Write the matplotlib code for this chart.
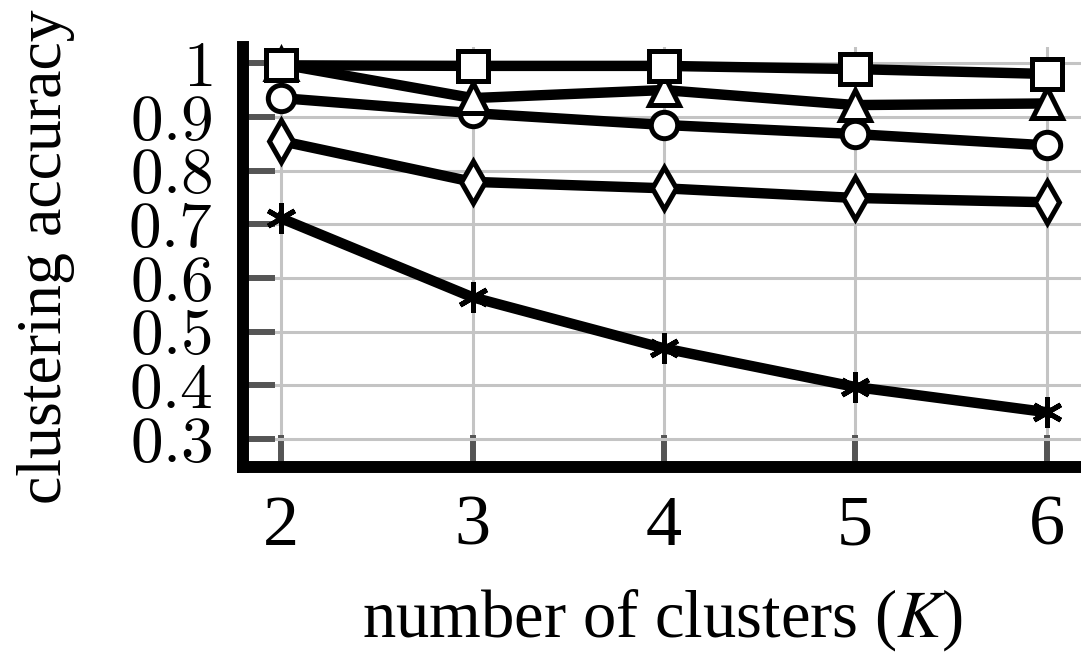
import matplotlib
matplotlib.use("Agg")
import matplotlib.pyplot as plt

# clustering accuracy for K = 2..6, one list per method
clusters = [2, 3, 4, 5, 6]
acc_square = [0.996, 0.995, 0.995, 0.989, 0.980]
acc_triangle = [0.998, 0.935, 0.950, 0.922, 0.925]
acc_circle = [0.935, 0.907, 0.885, 0.868, 0.847]
acc_diamond = [0.855, 0.779, 0.767, 0.749, 0.741]
acc_star = [0.711, 0.564, 0.469, 0.397, 0.350]

y_ticks = [0.3, 0.4, 0.5, 0.6, 0.7, 0.8, 0.9, 1.0]
y_ticklabels = ["$0.3$", "$0.4$", "$0.5$", "$0.6$", "$0.7$", "$0.8$", "$0.9$", "$1$"]

plt.rcParams["font.family"] = ["Liberation Serif", "DejaVu Serif"]

figure = plt.figure(figsize=(10.81, 6.54), dpi=100)
axis = figure.add_axes([0.2248, 0.286, 0.7752, 0.642])

series = [
    (acc_star, (6, 2, 0), 22),
    (acc_diamond, "d", 21),
    (acc_circle, "o", 19),
    (acc_triangle, "^", 21),
    (acc_square, "s", 21),
]
for values, marker, size in series:
    axis.plot(clusters, values, color="black", linewidth=7.5, marker=marker,
              markersize=size, markerfacecolor="white", markeredgecolor="black",
              markeredgewidth=3.6, clip_on=False, zorder=3)

axis.set_xlim(1.80, 6.18)
axis.set_ylim(0.248, 1.03)
axis.set_xticks(clusters)
axis.set_yticks(y_ticks)
axis.set_yticklabels(y_ticklabels)
for label in axis.get_yticklabels():
    label.set_fontproperties(matplotlib.font_manager.FontProperties(
        size=47, math_fontfamily="cm"))
for label in axis.get_xticklabels():
    label.set_fontsize(52)

axis.grid(color="#c4c4c4", linewidth=2.2, zorder=0)
axis.set_axisbelow(True)
axis.tick_params(direction="in", length=23, width=4.3, color="#555555")
axis.tick_params(axis="y", pad=22)
axis.tick_params(axis="x", pad=20)

for side in ("top", "right"):
    axis.spines[side].set_visible(False)
for side in ("left", "bottom"):
    axis.spines[side].set_linewidth(8.6)
    axis.spines[side].set_zorder(4)

axis.set_xlabel("number of clusters ($K$)", fontsize=48, labelpad=20,
                math_fontfamily="stix")
axis.set_ylabel("clustering accuracy", fontsize=46, labelpad=38)

figure.savefig("out.png", dpi=100)
